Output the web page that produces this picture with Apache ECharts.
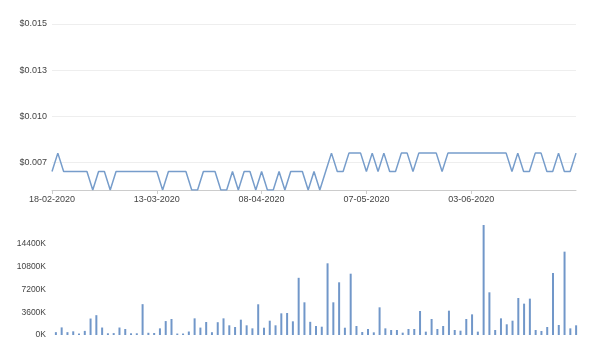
<!DOCTYPE html>
<html>
<head>
<meta charset="utf-8">
<script src="https://cdn.jsdelivr.net/npm/echarts@6/dist/echarts.min.js"></script>
<style>
html,body{margin:0;padding:0;background:#fff;}
#chart{width:602px;height:349px;}
</style>
</head>
<body>
<div id="chart"></div>
<script>
const dates = [
"18-02-2020","19-02-2020","20-02-2020","21-02-2020",
"24-02-2020","25-02-2020","26-02-2020","27-02-2020","28-02-2020",
"02-03-2020","03-03-2020","04-03-2020","05-03-2020","06-03-2020",
"09-03-2020","10-03-2020","11-03-2020","12-03-2020","13-03-2020",
"16-03-2020","17-03-2020","18-03-2020","19-03-2020","20-03-2020",
"23-03-2020","24-03-2020","25-03-2020","26-03-2020","27-03-2020",
"30-03-2020","31-03-2020","01-04-2020","02-04-2020","03-04-2020",
"06-04-2020","07-04-2020","08-04-2020","09-04-2020",
"14-04-2020","15-04-2020","16-04-2020","17-04-2020",
"20-04-2020","21-04-2020","22-04-2020","23-04-2020","24-04-2020",
"27-04-2020","28-04-2020","29-04-2020","30-04-2020",
"04-05-2020","05-05-2020","06-05-2020","07-05-2020","08-05-2020",
"11-05-2020","12-05-2020","13-05-2020","14-05-2020","15-05-2020",
"18-05-2020","19-05-2020","20-05-2020","21-05-2020","22-05-2020",
"25-05-2020","26-05-2020","27-05-2020","28-05-2020","29-05-2020",
"02-06-2020","03-06-2020","04-06-2020","05-06-2020",
"08-06-2020","09-06-2020","10-06-2020","11-06-2020","12-06-2020",
"15-06-2020","16-06-2020","17-06-2020","18-06-2020","19-06-2020",
"22-06-2020","23-06-2020","24-06-2020","25-06-2020","26-06-2020",
"29-06-2020"
];

const prices = [
0.007,0.008,0.007,0.007,0.007,0.007,0.007,0.006,0.007,0.007,
0.006,0.007,0.007,0.007,0.007,0.007,0.007,0.007,0.007,0.006,
0.007,0.007,0.007,0.007,0.006,0.006,0.007,0.007,0.007,0.006,
0.006,0.007,0.006,0.007,0.007,0.006,0.007,0.006,0.006,0.007,
0.006,0.007,0.007,0.007,0.006,0.007,0.006,0.007,0.008,0.007,
0.007,0.008,0.008,0.008,0.007,0.008,0.007,0.008,0.007,0.007,
0.008,0.008,0.007,0.008,0.008,0.008,0.008,0.007,0.008,0.008,
0.008,0.008,0.008,0.008,0.008,0.008,0.008,0.008,0.008,0.007,
0.008,0.007,0.007,0.008,0.008,0.007,0.007,0.008,0.007,0.007,
0.008
];

const volumes = [
450000,1200000,450000,580000,230000,650000,2600000,3130000,1180000,270000,
300000,1180000,950000,270000,270000,4870000,350000,320000,1050000,2200000,
2530000,230000,230000,550000,2630000,1170000,2050000,440000,2020000,2630000,
1530000,1260000,2420000,1530000,1050000,4850000,1150000,2260000,1530000,3420000,
3470000,2160000,9030000,5160000,2080000,1420000,1310000,11320000,5160000,8320000,
1150000,9680000,1420000,470000,950000,420000,4370000,1050000,790000,790000,
370000,950000,950000,3790000,530000,2530000,950000,1420000,3840000,790000,
680000,2530000,3260000,530000,17370000,6740000,790000,2630000,1690000,2260000,
5840000,4950000,5740000,790000,630000,1260000,9790000,1580000,13160000,1050000,
1530000
];

const priceTicks = [0.0075, 0.01, 0.0125, 0.015];
const volumeMax = 18000000;
const volumeInterval = 3600000;

const chart = echarts.init(document.getElementById('chart'), null, {renderer: 'canvas'});
const FONT = 'Liberation Sans';
const labelEvery = function (i) { return i % 18 === 0 && i < dates.length - 1; };

chart.setOption({
  animation: false,
  backgroundColor: '#ffffff',
  grid: [
    {left: 52, right: 26, top: 24, height: 166},
    {left: 53, right: 23, top: 221, height: 114}
  ],
  xAxis: [
    {
      type: 'category', gridIndex: 0, data: dates, boundaryGap: false,
      axisLine: {lineStyle: {color: '#cccccc'}},
      axisTick: {show: true, interval: labelEvery, length: 4, lineStyle: {color: '#cccccc'}},
      axisLabel: {interval: labelEvery, color: '#444', fontFamily: FONT, fontSize: 9, margin: 5},
      splitLine: {show: false}
    },
    {
      type: 'category', gridIndex: 1, data: dates,
      axisLine: {show: false}, axisTick: {show: false}, axisLabel: {show: false},
      splitLine: {show: false}
    }
  ],
  yAxis: [
    {
      type: 'value', gridIndex: 0, min: 0.006, max: 0.015,
      axisLine: {show: false},
      axisTick: {show: false, customValues: priceTicks},
      axisLabel: {
        customValues: priceTicks, color: '#444', fontFamily: FONT, fontSize: 9, margin: 5,
        formatter: function (v) { return '$' + v.toFixed(3); }
      },
      splitLine: {show: true, lineStyle: {color: '#eeeeee'}}
    },
    {
      type: 'value', gridIndex: 1, min: 0, max: volumeMax, interval: volumeInterval,
      axisLine: {show: false}, axisTick: {show: false},
      axisLabel: {
        showMaxLabel: false, color: '#444', fontFamily: FONT, fontSize: 8.5, margin: 7,
        formatter: function (v) { return (v / 1000) + 'K'; }
      },
      splitLine: {show: false}
    }
  ],
  series: [
    {
      type: 'line', xAxisIndex: 0, yAxisIndex: 0, data: prices,
      showSymbol: false, symbol: 'none',
      lineStyle: {color: '#779dcb', width: 1.5}
    },
    {
      type: 'bar', xAxisIndex: 1, yAxisIndex: 1, data: volumes,
      barWidth: 2,
      itemStyle: {color: '#7197c9'}
    }
  ]
});
</script>
</body>
</html>
